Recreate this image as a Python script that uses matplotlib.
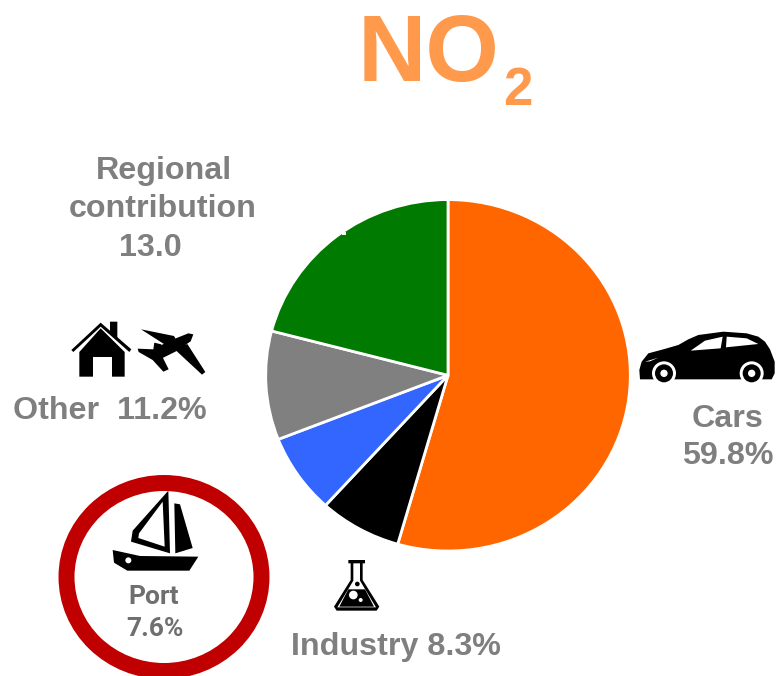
import matplotlib
matplotlib.use('Agg')
import matplotlib.pyplot as plt
from matplotlib.patches import Polygon, Circle, Ellipse, Rectangle

plt.rcParams['font.family'] = ['Liberation Sans', 'DejaVu Sans']

# slice shares as drawn in the picture (not the same as the printed labels)
sources = ['Cars', 'Industry', 'Port', 'Other', 'Regional contribution']
shares = [54.45, 7.28, 7.33, 10.0, 20.94]
colors = ['#FF6600', '#000000', '#3366FF', '#808080', '#007A00']

W, H = 776, 676
GREY = '#7F7F7F'

fig = plt.figure(figsize=(W / 100, H / 100), dpi=100, facecolor='white')

# -------------------------------------------------
# Pie (slightly wider than tall in the reference)
# -------------------------------------------------
cx, cy, rx, ry = 448, 375.3, 182.3, 175.7
ax = fig.add_axes([(cx - rx) / W, 1 - (cy + ry) / H, 2 * rx / W, 2 * ry / H])
ax.pie(shares, colors=colors, startangle=90, counterclock=False, radius=1,
       wedgeprops={'edgecolor': 'white', 'linewidth': 2})
ax.set_aspect('auto')
ax.set_xlim(-1, 1)
ax.set_ylim(-1, 1)

# -------------------------------------------------
# Overlay in pixel coordinates for text and icons
# -------------------------------------------------
ov = fig.add_axes([0, 0, 1, 1], facecolor='none')
ov.set_xlim(0, W)
ov.set_ylim(H, 0)
ov.axis('off')


def poly(pts, x0, y0, color='black', s=3.0):
    ov.add_patch(Polygon([(x0 + x / s, y0 + y / s) for x, y in pts],
                         closed=True, fc=color, ec='none', joinstyle='round'))


def dot(x, y, r, x0, y0, color='black', s=3.0):
    ov.add_patch(Circle((x0 + x / s, y0 + y / s), r / s, fc=color, ec='none'))


# small white notch on the green slice
ov.add_patch(Rectangle((342, 232), 4, 3, fc='white', ec='none'))

# title
ov.text(429, 56, 'NO', fontsize=68, fontweight='bold', color='#FF9A4D', ha='center', va='center')
ov.text(518, 91, '2', fontsize=38, fontweight='bold', color='#FF9A4D', ha='center', va='center')

# labels
lab = dict(fontsize=23.2, fontweight='bold', color=GREY, ha='center', va='center')
ov.text(164, 171, 'Regional', **lab)
ov.text(163, 209, 'contribution', **lab)
ov.text(150, 248, '13.0', **lab)
ov.text(110, 411, 'Other  11.2%', **lab)
ov.text(728, 419, 'Cars', **lab)
ov.text(728, 456, '59.8%', **lab)
ov.text(396, 647, 'Industry 8.3%', **lab)
ov.text(154, 597, 'Port', fontsize=19, fontweight='bold', color='#6F6F6F', ha='center',
        va='center', family=['Roboto', 'DejaVu Sans'])
ov.text(155, 629, '7.6%', fontsize=19, fontweight='bold', color='#6F6F6F', ha='center',
        va='center', family=['Roboto', 'DejaVu Sans'])

# red ring round the port label
ov.add_patch(Ellipse((164, 577), 195, 188, fc='none', ec='#C00000', lw=11.5))

# boat
bx, by = 40, 460
poly([(218, 270), (300, 288), (475, 290), (448, 332), (262, 332), (222, 308)], bx, by)
dot(265, 301, 9, bx, by, 'white')
poly([(385, 92), (390, 280), (273, 245), (278, 212)], bx, by)
poly([(368, 125), (374, 260), (295, 234), (297, 220)], bx, by, 'white')
poly([(403, 130), (420, 133), (458, 264), (406, 280)], bx, by)

# house
hx, hy = 60, 310
poly([(34, 120), (122, 38), (214, 118), (208, 126), (122, 50), (40, 126)], hx, hy)
poly([(150, 35), (172, 35), (172, 85), (150, 65)], hx, hy)
poly([(58, 200), (58, 126), (122, 55), (194, 126), (194, 200)], hx, hy)
poly([(98, 200), (98, 140), (155, 140), (155, 200)], hx, hy, 'white')

# plane
poly([(400, 73), (392, 94), (348, 124), (296, 150), (266, 130), (298, 108), (345, 86), (385, 70)], hx, hy)
poly([(243, 58), (342, 78), (356, 102), (318, 106)], hx, hy)
poly([(342, 116), (382, 102), (436, 186), (426, 194)], hx, hy)
poly([(233, 116), (280, 118), (283, 98), (304, 103), (302, 130), (326, 178), (310, 185),
      (278, 150), (236, 126)], hx, hy)

# car
kx, ky = 630, 320
poly([(30, 178), (28, 150), (35, 125), (55, 100), (100, 88), (145, 75), (175, 58), (205, 45),
      (280, 35), (350, 40), (385, 50), (405, 65), (420, 88), (434, 125), (434, 160), (425, 178)], kx, ky)
poly([(182, 92), (225, 62), (278, 50), (272, 85)], kx, ky, 'white')
poly([(290, 50), (350, 55), (385, 72), (288, 82)], kx, ky, 'white')
poly([(45, 125), (85, 113), (60, 124)], kx, ky, 'white')
for wx in (102, 365):
    dot(wx, 160, 36, kx, ky, 'white')
    dot(wx, 160, 27, kx, ky)
    dot(wx, 160, 11, kx, ky, 'white')

# flask
fx, fy = 320, 550
poly([(85, 30), (135, 30), (135, 40), (128, 40), (128, 90), (178, 170), (170, 182), (50, 182),
      (42, 170), (92, 90), (92, 40), (85, 40)], fx, fy)
poly([(100, 40), (120, 40), (120, 92), (168, 172), (52, 172), (100, 92)], fx, fy, 'white')
poly([(85, 118), (135, 118), (162, 170), (58, 170)], fx, fy)
dot(112, 102, 7, fx, fy)
dot(100, 135, 13, fx, fy, 'white')
dot(122, 150, 6, fx, fy, 'white')

fig.savefig('out.png', dpi=100)
